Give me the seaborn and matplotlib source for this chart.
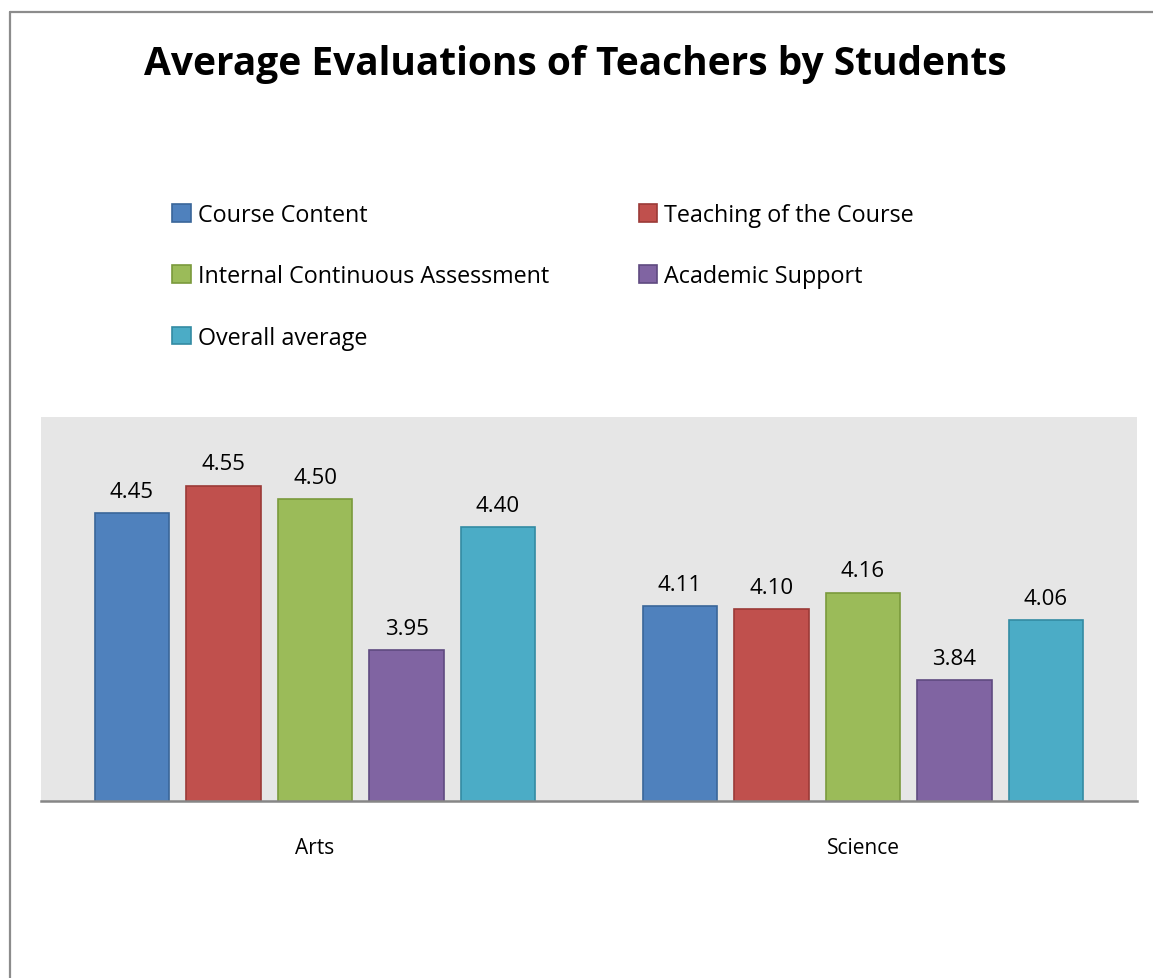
import matplotlib
matplotlib.use("Agg")
import matplotlib.pyplot as plt
from matplotlib.lines import Line2D
from matplotlib.patches import Patch
import pandas as pd
import seaborn as sns

FACULTIES = ["Arts", "Science"]
CRITERIA = [
    "Course Content",
    "Teaching of the Course",
    "Internal Continuous Assessment",
    "Academic Support",
    "Overall average",
]
ARTS = [4.45, 4.55, 4.50, 3.95, 4.40]
SCIENCE = [4.11, 4.10, 4.16, 3.84, 4.06]

FILLS = ["#4F81BD", "#C0504D", "#9BBB59", "#8064A2", "#4BACC6"]
EDGES = ["#3A6699", "#9B3A37", "#7A9A3C", "#5F4A80", "#338BA3"]

sns.set_style("white")
plt.rcParams["font.family"] = ["Open Sans", "DejaVu Sans"]
plt.rcParams["text.color"] = "black"
plt.rcParams["xtick.color"] = "black"

rows = []
for faculty, values in zip(FACULTIES, [ARTS, SCIENCE]):
    for crit, v in zip(CRITERIA, values):
        rows.append({"Faculty": faculty, "Criterion": crit, "Score": v})
df = pd.DataFrame(rows)

fig = plt.figure(figsize=(11.53, 9.79), dpi=100)
ax = fig.add_axes([41 / 1153, 1 - 802 / 979, 1096 / 1153, 384 / 979])

sns.barplot(data=df, x="Faculty", y="Score", hue="Criterion", hue_order=CRITERIA,
            palette=FILLS, saturation=1, width=0.835, gap=0.19, linewidth=1.2,
            legend=False, ax=ax)

for cont, edge in zip(ax.containers, EDGES):
    for bar in cont:
        bar.set_edgecolor(edge)
    ax.bar_label(cont, fmt="%.2f", padding=8, fontsize=16, color="black")

ax.set_ylim(3.4, 4.8)
ax.set_xlim(-0.5, 1.5)
ax.set_facecolor("#E6E6E6")
ax.set_yticks([])
ax.set_xlabel("")
ax.set_ylabel("")
ax.tick_params(axis="x", length=0, pad=26, labelsize=15, labelcolor="black")
for side in ["top", "right", "left"]:
    ax.spines[side].set_visible(False)
ax.spines["bottom"].set_color("#868686")
ax.spines["bottom"].set_linewidth(1.8)

fig.text(0.499, 1 - 65 / 979, "Average Evaluations of Teachers by Students",
         ha="center", va="center", fontsize=28, fontweight="bold", color="black")

# legend reads row by row: reorder for matplotlib's column filling
order = [0, 2, 4, 1, 3]
handles = [Patch(facecolor=FILLS[i], edgecolor=EDGES[i], linewidth=1.2) for i in order]
labels = [CRITERIA[i] for i in order]
fig.legend(handles, labels, ncol=2, loc="upper left",
           bbox_to_anchor=(151 / 1153, 1 - 183 / 979), frameon=False,
           fontsize=16.8, handlelength=0.8, handleheight=0.8, handletextpad=0.3,
           labelspacing=1.6, columnspacing=3.85)

# outer frame like the original document border
fig.add_artist(Line2D([10 / 1153, 1], [1 - 13 / 979, 1 - 13 / 979],
                      transform=fig.transFigure, color="#8C8C8C", linewidth=1.6))
fig.add_artist(Line2D([10 / 1153, 10 / 1153], [0, 1 - 13 / 979],
                      transform=fig.transFigure, color="#8C8C8C", linewidth=1.6))

fig.savefig("out.png", dpi=100)
